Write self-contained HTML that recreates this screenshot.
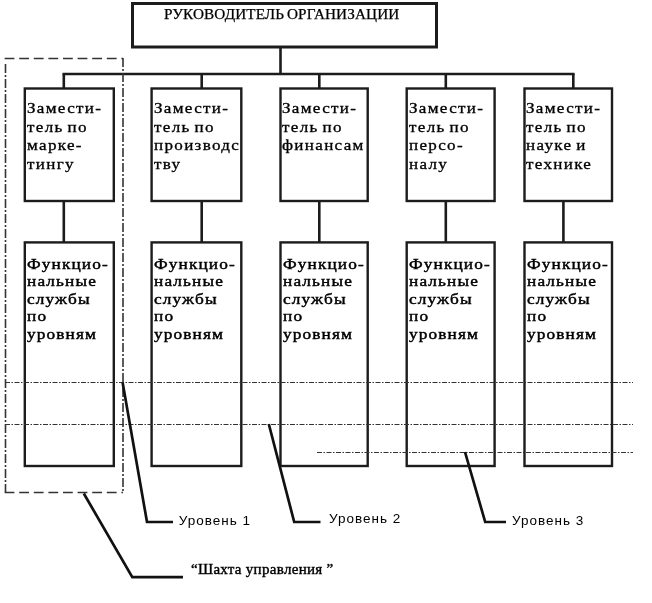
<!DOCTYPE html>
<html><head><meta charset="utf-8">
<style>
html,body{margin:0;padding:0;background:#fff;}
body{width:652px;height:603px;position:relative;overflow:hidden;font-family:"Liberation Mono",monospace;color:#000;filter:grayscale(1);}
svg{position:absolute;left:0;top:0;}
.t{position:absolute;white-space:pre;font-family:"Liberation Serif",serif;font-size:15.5px;line-height:18.8px;-webkit-text-stroke:0.32px #000;letter-spacing:1.2px;word-spacing:-1.5px;transform:scaleX(1.1);transform-origin:0 0;}
.tb{position:absolute;white-space:pre;font-family:"Liberation Serif",serif;font-size:15px;line-height:17.6px;font-weight:normal;-webkit-text-stroke:0.45px #000;letter-spacing:1.0px;transform:scaleX(1.15);transform-origin:0 0;}
.lab{position:absolute;white-space:pre;font-family:"Liberation Sans",sans-serif;font-size:13.5px;line-height:14px;letter-spacing:1px;}
.ser{font-family:"Liberation Serif",serif;}
</style></head><body>
<svg width="652" height="603" viewBox="0 0 652 603">
<g fill="none" stroke="#1c1c1c">
<rect x="132.5" y="3.5" width="304.0" height="43.5" stroke-width="3"/>
<line x1="280.5" y1="47" x2="280.5" y2="74" stroke-width="2.6"/>
<line x1="62.5" y1="74" x2="574.6" y2="74" stroke-width="2.6"/>
<line x1="63.8" y1="74" x2="63.8" y2="88.5" stroke-width="2.6"/>
<line x1="63.8" y1="201.0" x2="63.8" y2="242.4" stroke-width="2.6"/>
<rect x="24.8" y="88.5" width="89.0" height="112.5" stroke-width="2.4"/>
<rect x="24.8" y="242.4" width="89.0" height="223.6" stroke-width="2.4"/>
<line x1="201.7" y1="74" x2="201.7" y2="88.5" stroke-width="2.6"/>
<line x1="201.7" y1="201.0" x2="201.7" y2="242.4" stroke-width="2.6"/>
<rect x="151.6" y="88.5" width="89.7" height="112.5" stroke-width="2.4"/>
<rect x="151.6" y="242.4" width="89.7" height="223.6" stroke-width="2.4"/>
<line x1="319.3" y1="74" x2="319.3" y2="88.5" stroke-width="2.6"/>
<line x1="319.3" y1="201.0" x2="319.3" y2="242.4" stroke-width="2.6"/>
<rect x="280.5" y="88.5" width="87.2" height="112.5" stroke-width="2.4"/>
<rect x="280.5" y="242.4" width="87.2" height="223.6" stroke-width="2.4"/>
<line x1="445.8" y1="74" x2="445.8" y2="88.5" stroke-width="2.6"/>
<line x1="445.8" y1="201.0" x2="445.8" y2="242.4" stroke-width="2.6"/>
<rect x="406.7" y="88.5" width="87.9" height="112.5" stroke-width="2.4"/>
<rect x="406.7" y="242.4" width="87.9" height="223.6" stroke-width="2.4"/>
<line x1="573.3" y1="74" x2="573.3" y2="88.5" stroke-width="2.6"/>
<line x1="563.4" y1="201.0" x2="563.4" y2="242.4" stroke-width="2.6"/>
<rect x="524.5" y="88.5" width="87.5" height="112.5" stroke-width="2.4"/>
<rect x="524.5" y="242.4" width="87.5" height="223.6" stroke-width="2.4"/>
</g>
<g fill="none" stroke="#333">
<path d="M4.6 58.5 H123" stroke-width="1.3" stroke-dasharray="9.8 4.8"/>
<path d="M4.6 492.5 H123" stroke-width="1.3" stroke-dasharray="9.8 4.8"/>
<path d="M5.5 64 V492" stroke-width="1.6" stroke-dasharray="9 2 2 2"/>
<path d="M123 58 V492" stroke-width="1.6" stroke-dasharray="9 2 2 2"/>
<path d="M5 382.5 H633" stroke-width="1.1" stroke-dasharray="5 1.5 1.5 1.5"/>
<path d="M5 424.5 H633" stroke-width="1.1" stroke-dasharray="5 1.5 1.5 1.5"/>
<path d="M317 452.5 H633" stroke-width="1.1" stroke-dasharray="5 1.5 1.5 1.5"/>
</g>
<g fill="none" stroke="#111" stroke-width="2.7" stroke-linejoin="miter">
<polyline points="122.6,382.5 147,522 173,522"/>
<polyline points="268.8,424 294.2,522 320.5,522"/>
<polyline points="465,452 485.2,522 506,522"/>
<polyline points="83.8,493.5 132.3,577.2 183,577.2"/>
</g>
</svg>
<div class="lab ser" style="left:164px;top:6.6px;font-size:14.5px;letter-spacing:0.1px;word-spacing:-1px;transform:scaleX(1.05);transform-origin:0 0;-webkit-text-stroke:0.25px #000;">РУКОВОДИТЕЛЬ ОРГАНИЗАЦИИ</div>
<div class="t" style="left:26.6px;top:98.9px;">Замести-
тель по
марке-
тингу</div>
<div class="t" style="left:154.1px;top:98.9px;">Замести-
тель по
производс
тву</div>
<div class="t" style="left:281.6px;top:98.9px;">Замести-
тель по
финансам</div>
<div class="t" style="left:408.9px;top:98.9px;">Замести-
тель по
персо-
налу</div>
<div class="t" style="left:525.6px;top:98.9px;">Замести-
тель по
науке и
технике</div>
<div class="tb" style="left:27.3px;top:255.6px;">Функцио-
нальные
службы
по
уровням</div>
<div class="tb" style="left:154.3px;top:255.6px;">Функцио-
нальные
службы
по
уровням</div>
<div class="tb" style="left:283.3px;top:255.6px;">Функцио-
нальные
службы
по
уровням</div>
<div class="tb" style="left:409.3px;top:255.6px;">Функцио-
нальные
службы
по
уровням</div>
<div class="tb" style="left:527.3px;top:255.6px;">Функцио-
нальные
службы
по
уровням</div>
<div class="lab" style="left:178.7px;top:513.7px;">Уровень 1</div>
<div class="lab" style="left:329px;top:512px;">Уровень 2</div>
<div class="lab" style="left:512px;top:513.7px;">Уровень 3</div>
<div class="lab ser" style="left:191px;top:562px;font-size:15px;letter-spacing:0.3px;-webkit-text-stroke:0.4px #000;">“Шахта управления ”</div>
</body></html>
